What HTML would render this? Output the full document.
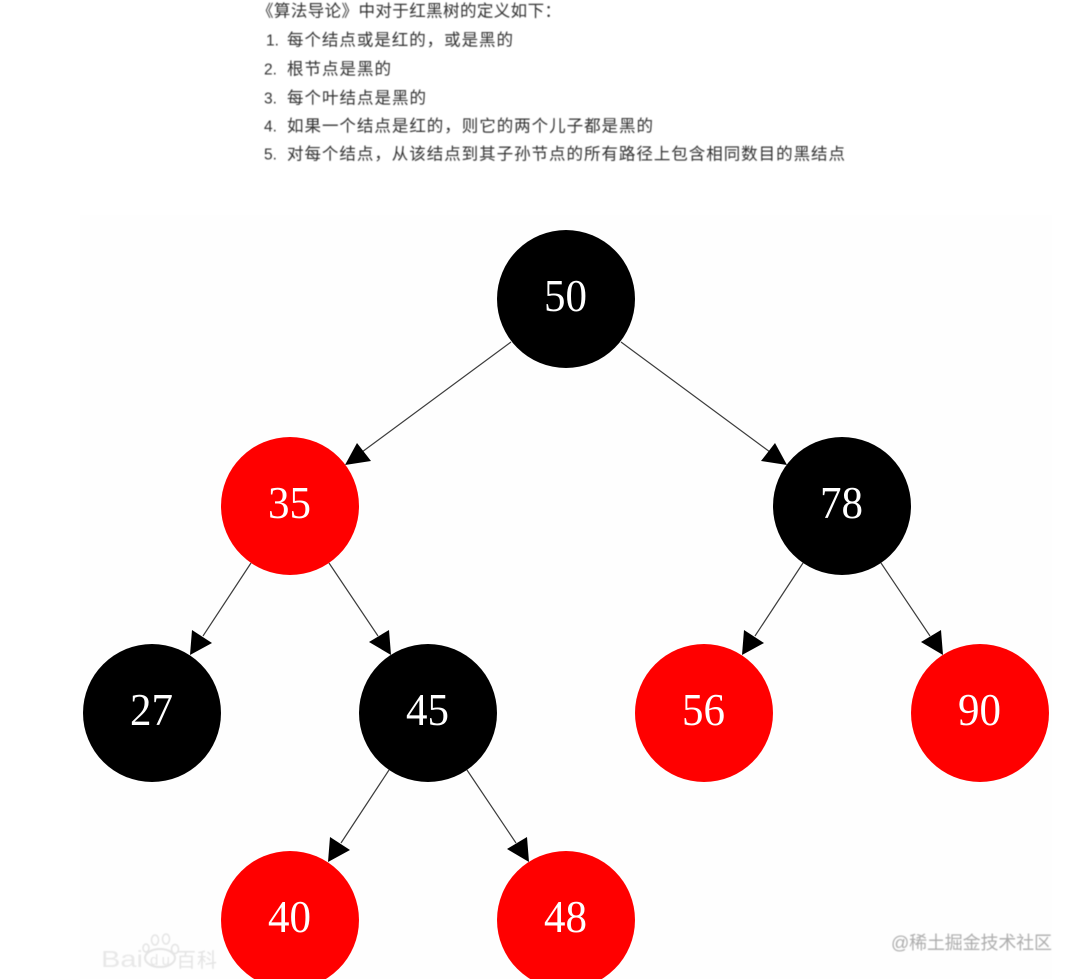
<!DOCTYPE html>
<html lang="zh">
<head>
<meta charset="utf-8">
<title>红黑树的定义</title>
<style>
html,body{margin:0;padding:0;background:#fff;}
body{width:1078px;height:979px;overflow:hidden;position:relative;}
svg{position:absolute;left:0;top:0;display:block;}
</style>
</head>
<body>
<svg width="1078" height="979" viewBox="0 0 1078 979" xmlns="http://www.w3.org/2000/svg">
<defs>
<filter id="b" x="-5%" y="-5%" width="110%" height="110%"><feGaussianBlur stdDeviation="0.4"/></filter>
<filter id="c" x="-5%" y="-5%" width="110%" height="110%"><feGaussianBlur stdDeviation="0.3"/></filter>
</defs>
<rect x="80" y="215" width="972" height="764" fill="#fefefe"/>

<g font-family="'Liberation Sans','Noto Sans CJK SC',sans-serif" font-size="16.5" fill="#333" filter="url(#b)">
<text x="257" y="16.7" textLength="304" lengthAdjust="spacing">《算法导论》中对于红黑树的定义如下：</text>
<text x="266" y="45.7" font-size="15.5">1.</text>
<text x="287" y="45.7" textLength="226" lengthAdjust="spacing">每个结点或是红的，或是黑的</text>
<text x="264" y="74.7" font-size="15.5">2.</text>
<text x="287" y="74.7" textLength="104" lengthAdjust="spacing">根节点是黑的</text>
<text x="264" y="103.7" font-size="15.5">3.</text>
<text x="287" y="103.7" textLength="139" lengthAdjust="spacing">每个叶结点是黑的</text>
<text x="264" y="131.7" font-size="15.5">4.</text>
<text x="287" y="131.7" textLength="366" lengthAdjust="spacing">如果一个结点是红的，则它的两个儿子都是黑的</text>
<text x="264" y="159.7" font-size="15.5">5.</text>
<text x="287" y="159.7" textLength="558" lengthAdjust="spacing">对每个结点，从该结点到其子孙节点的所有路径上包含相同数目的黑结点</text>
</g>

<g stroke="#3c3c3c" stroke-width="1.2" fill="none">
<line x1="511" y1="342" x2="362" y2="452"/>
<line x1="621" y1="342" x2="770" y2="452"/>
<line x1="251" y1="563" x2="203" y2="636"/>
<line x1="329" y1="563" x2="378" y2="636"/>
<line x1="803" y1="563" x2="755" y2="636"/>
<line x1="881" y1="563" x2="930" y2="636"/>
<line x1="389" y1="770" x2="341" y2="843"/>
<line x1="467" y1="770" x2="516" y2="843"/>
</g>
<g fill="#000">
<polygon points="345,465 357,443 371,461"/>
<polygon points="787,465 775,443 761,461"/>
<polygon points="190,655 192,630 212,643"/>
<polygon points="391,655 389,630 369,642"/>
<polygon points="742,655 744,630 764,643"/>
<polygon points="943,655 941,630 921,642"/>
<polygon points="328,862 330,837 350,850"/>
<polygon points="529,862 527,837 507,849"/>
</g>

<circle cx="566" cy="299" r="69" fill="#000"/>
<circle cx="290" cy="506" r="69" fill="#f00"/>
<circle cx="842" cy="506" r="69" fill="#000"/>
<circle cx="152" cy="713" r="69" fill="#000"/>
<circle cx="428" cy="713" r="69" fill="#000"/>
<circle cx="704" cy="713" r="69" fill="#f00"/>
<circle cx="980" cy="713" r="69" fill="#f00"/>
<circle cx="290" cy="920" r="69" fill="#f00"/>
<circle cx="566" cy="920" r="69" fill="#f00"/>

<g font-family="'Liberation Serif',serif" font-size="46" fill="#fff" filter="url(#c)">
<text x="544" y="311" textLength="43" lengthAdjust="spacingAndGlyphs">50</text>
<text x="268" y="518" textLength="43" lengthAdjust="spacingAndGlyphs">35</text>
<text x="820" y="518" textLength="43" lengthAdjust="spacingAndGlyphs">78</text>
<text x="130" y="725" textLength="43" lengthAdjust="spacingAndGlyphs">27</text>
<text x="406" y="725" textLength="43" lengthAdjust="spacingAndGlyphs">45</text>
<text x="682" y="725" textLength="43" lengthAdjust="spacingAndGlyphs">56</text>
<text x="958" y="725" textLength="43" lengthAdjust="spacingAndGlyphs">90</text>
<text x="268" y="932" textLength="43" lengthAdjust="spacingAndGlyphs">40</text>
<text x="544" y="932" textLength="43" lengthAdjust="spacingAndGlyphs">48</text>
</g>

<g filter="url(#b)">
<text x="101" y="967" font-family="'Liberation Sans',sans-serif" font-size="23" fill="#e8e8e8" textLength="42" lengthAdjust="spacingAndGlyphs">Bai</text>
<ellipse cx="160" cy="958" rx="15" ry="9" fill="none" stroke="#e4e4e4" stroke-width="2"/>
<text x="150" y="965" font-family="'Liberation Sans',sans-serif" font-size="15" fill="#e6e6e6" textLength="20" lengthAdjust="spacing">du</text>
<ellipse cx="155" cy="940" rx="3.5" ry="5" fill="none" stroke="#e4e4e4" stroke-width="1.5"/>
<ellipse cx="166" cy="939" rx="3.5" ry="5" fill="none" stroke="#e4e4e4" stroke-width="1.5"/>
<ellipse cx="175" cy="949" rx="3.5" ry="4.5" fill="none" stroke="#e4e4e4" stroke-width="1.5"/>
<ellipse cx="146" cy="948" rx="3" ry="4" fill="none" stroke="#e4e4e4" stroke-width="1.5"/>
<text x="176" y="967" font-family="'Liberation Sans','Noto Sans CJK SC',sans-serif" font-size="20" fill="#e4e4e4" textLength="41" lengthAdjust="spacing">百科</text>
</g>

<text x="891" y="949" font-family="'Liberation Sans','Noto Sans CJK SC',sans-serif" font-size="18" fill="#adadad" textLength="161" lengthAdjust="spacing" filter="url(#b)">@稀土掘金技术社区</text>
</svg>
</body>
</html>
